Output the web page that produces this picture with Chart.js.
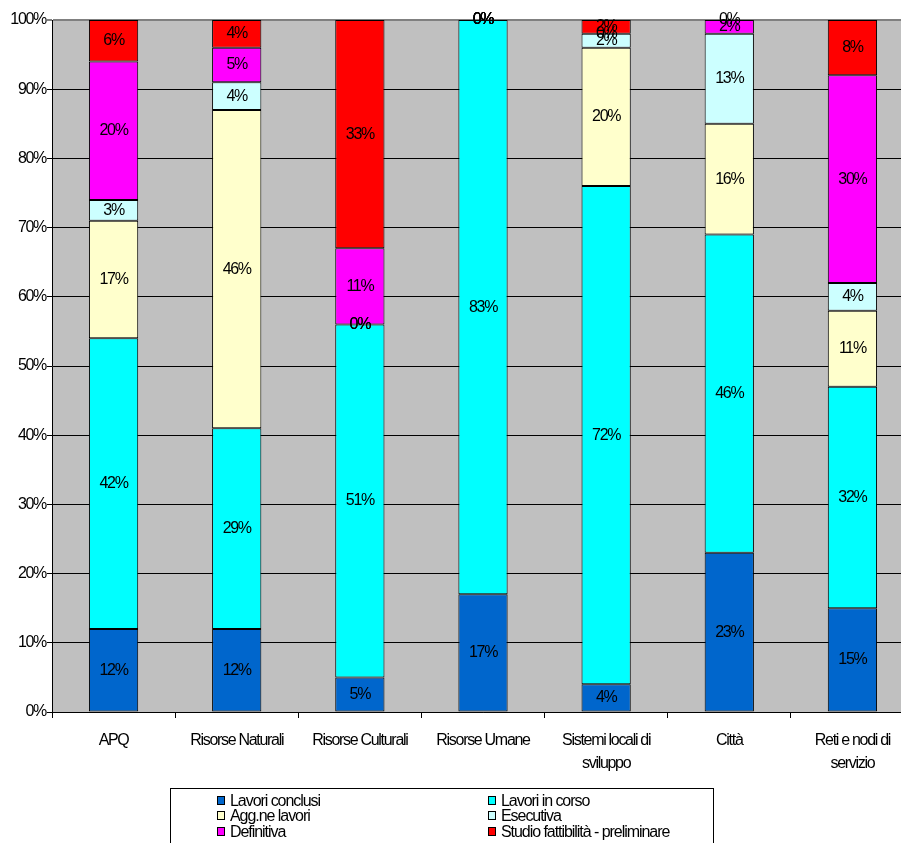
<!DOCTYPE html>
<html>
<head>
<meta charset="utf-8">
<script src="https://cdn.jsdelivr.net/npm/chart.js@4/dist/chart.umd.min.js"></script>
<style>
  html, body { margin: 0; padding: 0; background: #fff; overflow: hidden; }
  #wrap { width: 915px; height: 843px; }
</style>
</head>
<body>
<div id="wrap"><canvas id="c" width="915" height="843"></canvas></div>
<script>
// Categorie (asse X)
const categories = [
  ["APQ"],
  ["Risorse Naturali"],
  ["Risorse Culturali"],
  ["Risorse Umane"],
  ["Sistemi locali di", "sviluppo"],
  ["Città"],
  ["Reti e nodi di", "servizio"]
];

// Quote percentuali per stato di avanzamento
const lavoriConclusi   = [12, 12, 5, 17, 4, 23, 15];
const lavoriInCorso    = [42, 29, 51, 83, 72, 46, 32];
const aggiudLavori     = [17, 46, 0, 0, 20, 16, 11];
const esecutiva        = [3, 4, 0, 0, 2, 13, 4];
const definitiva       = [20, 5, 11, 0, 0, 2, 30];
const studioFattibilita = [6, 4, 33, 0, 2, 0, 8];

// Etichette dell'asse Y
const yTickValues = [0, 10, 20, 30, 40, 50, 60, 70, 80, 90, 100];

const FONT = '"Liberation Sans", Arial, sans-serif';
const SPACING = '-1.3px';

const seriesDefs = [
  { label: 'Lavori conclusi', data: lavoriConclusi, color: '#0066CC' },
  { label: 'Lavori in corso', data: lavoriInCorso, color: '#00FFFF' },
  { label: 'Agg.ne lavori', data: aggiudLavori, color: '#FFFFCC' },
  { label: 'Esecutiva', data: esecutiva, color: '#CCFFFF' },
  { label: 'Definitiva', data: definitiva, color: '#FF00FF' },
  { label: 'Studio fattibilità - preliminare', data: studioFattibilita, color: '#FF0000' }
];

const datasets = seriesDefs.map(s => ({
  label: s.label,
  data: s.data,
  backgroundColor: s.color,
  borderColor: '#000',
  borderWidth: 1,
  borderSkipped: false,
  barPercentage: 0.4,
  categoryPercentage: 1.0
}));

// Sfondo grigio dell'area del grafico e spaziatura del testo
const plotBackground = {
  id: 'plotBackground',
  beforeDraw(chart) {
    const { ctx, chartArea: a } = chart;
    ctx.letterSpacing = SPACING;
    ctx.save();
    ctx.fillStyle = '#C0C0C0';
    ctx.fillRect(a.left, a.top, a.right - a.left, a.bottom - a.top);
    ctx.restore();
  }
};

// Valori percentuali al centro di ogni segmento
const segmentLabels = {
  id: 'segmentLabels',
  afterDatasetsDraw(chart) {
    const { ctx } = chart;
    ctx.save();
    ctx.letterSpacing = SPACING;
    ctx.font = '16px ' + FONT;
    ctx.fillStyle = '#000';
    ctx.textAlign = 'center';
    ctx.textBaseline = 'middle';
    chart.data.datasets.forEach((ds, i) => {
      const meta = chart.getDatasetMeta(i);
      meta.data.forEach((bar, j) => {
        const y = (bar.y + bar.base) / 2;
        ctx.fillText(ds.data[j] + '%', bar.x, y);
      });
    });
    ctx.restore();
  }
};

// Legenda su due colonne in un riquadro sotto il grafico
const boxLegend = {
  id: 'boxLegend',
  afterDraw(chart) {
    const { ctx } = chart;
    ctx.save();
    ctx.letterSpacing = '-1.05px';
    ctx.strokeStyle = '#000';
    ctx.lineWidth = 1;
    ctx.fillStyle = '#fff';
    ctx.fillRect(170.5, 788.5, 543, 70);
    ctx.strokeRect(170.5, 788.5, 543, 70);
    ctx.font = '16px ' + FONT;
    ctx.textBaseline = 'middle';
    ctx.textAlign = 'left';
    const colX = [217, 488];
    const rowY = [801, 816, 832];
    chart.data.datasets.forEach((ds, i) => {
      const x = colX[i % 2];
      const y = rowY[Math.floor(i / 2)];
      ctx.fillStyle = ds.backgroundColor;
      ctx.fillRect(x + 0.5, y - 4.5, 7, 8);
      ctx.strokeRect(x + 0.5, y - 4.5, 7, 8);
      ctx.fillStyle = '#000';
      ctx.fillText(ds.label, x + 13, y + 1);
    });
    ctx.restore();
  }
};

new Chart(document.getElementById('c'), {
  type: 'bar',
  data: { labels: categories, datasets },
  plugins: [plotBackground, segmentLabels, boxLegend],
  options: {
    responsive: false,
    animation: false,
    devicePixelRatio: 1,
    layout: { padding: { top: 20, bottom: 55, left: 0, right: 1 } },
    plugins: {
      legend: { display: false },
      tooltip: { enabled: false },
      title: { display: false }
    },
    scales: {
      x: {
        stacked: true,
        afterFit(scale) { scale.height = 76; },
        grid: {
          offset: true,
          drawOnChartArea: false,
          drawTicks: true,
          tickLength: 6,
          color: '#000',
          lineWidth: 1
        },
        border: { color: '#000', width: 1 },
        ticks: {
          color: '#000',
          font: { family: FONT, size: 16, lineHeight: 1.45 },
          padding: 11,
          maxRotation: 0,
          autoSkip: false
        }
      },
      y: {
        stacked: true,
        min: 0,
        max: 100,
        afterFit(scale) { scale.width = 52; },
        afterBuildTicks(scale) { scale.ticks = yTickValues.map(v => ({ value: v })); },
        grid: {
          color: ctx => (ctx.tick && ctx.tick.value === 100) ? '#808080' : '#000',
          lineWidth: ctx => (ctx.tick && ctx.tick.value === 100) ? 2 : 1,
          drawTicks: true,
          tickLength: 5
        },
        border: { color: '#000', width: 1 },
        ticks: {
          color: '#000',
          font: { family: FONT, size: 16 },
          padding: 1,
          callback: v => v + '%'
        }
      }
    }
  }
});
</script>
</body>
</html>
